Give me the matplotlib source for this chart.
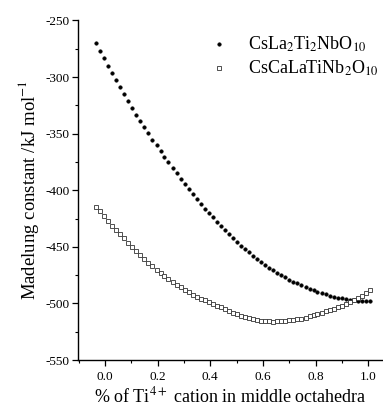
import matplotlib
matplotlib.use("Agg")
import matplotlib.pyplot as plt
from matplotlib.ticker import MultipleLocator

# fraction of Ti4+ in the middle octahedra (shared grid for both series)
ti_fraction = [
    -0.034, -0.019, -0.003, 0.012, 0.027, 0.043, 0.058, 0.073, 0.088, 0.104,
    0.119, 0.134, 0.150, 0.165, 0.180, 0.196, 0.211, 0.226, 0.241, 0.257,
    0.272, 0.287, 0.303, 0.318, 0.333, 0.349, 0.364, 0.379, 0.394, 0.410,
    0.425, 0.440, 0.456, 0.471, 0.486, 0.502, 0.517, 0.532, 0.547, 0.563,
    0.578, 0.593, 0.609, 0.624, 0.639, 0.654, 0.670, 0.685, 0.700, 0.716,
    0.731, 0.746, 0.762, 0.777, 0.792, 0.807, 0.823, 0.838, 0.853, 0.869,
    0.884, 0.899, 0.915, 0.930, 0.945, 0.961, 0.976, 0.991, 1.006,
]

# Madelung constant, kJ/mol
cs_la2_ti2_nb = [
    -270.3, -276.8, -283.6, -289.9, -296.4, -303.0, -308.9, -314.7, -321.4, -327.2,
    -333.2, -339.0, -344.4, -349.6, -355.3, -360.5, -365.5, -370.5, -375.4, -380.3,
    -385.0, -389.8, -394.5, -399.0, -403.4, -407.8, -411.8, -416.2, -420.0, -424.0,
    -428.0, -431.6, -435.4, -438.9, -442.3, -445.5, -449.0, -452.1, -455.0, -457.9,
    -460.8, -463.4, -466.1, -468.4, -470.6, -473.0, -475.0, -477.0, -479.0, -480.8,
    -482.4, -483.9, -485.4, -486.9, -488.3, -489.6, -490.8, -492.0, -493.1, -494.0,
    -494.8, -495.6, -496.3, -496.8, -497.2, -497.5, -497.7, -497.8, -497.8,
]
cs_ca_la_ti_nb2 = [
    -414.8, -418.8, -422.9, -427.3, -431.4, -435.1, -438.9, -442.6, -446.6, -450.5,
    -454.1, -457.4, -460.9, -464.2, -467.3, -470.1, -472.9, -475.7, -478.5, -481.0,
    -483.4, -485.7, -488.0, -490.1, -492.2, -494.0, -495.7, -497.4, -498.9, -500.4,
    -502.0, -503.5, -505.0, -506.6, -508.1, -509.4, -510.9, -512.1, -513.2, -514.1,
    -514.8, -515.3, -515.7, -515.9, -516.0, -515.9, -515.8, -515.4, -515.0, -514.5,
    -514.0, -513.4, -512.6, -511.5, -510.4, -509.2, -508.2, -507.0, -506.0, -504.6,
    -503.3, -501.9, -500.3, -498.6, -496.9, -494.9, -493.1, -490.7, -488.4,
]

plt.rcParams["font.family"] = ["Liberation Serif", "DejaVu Serif"]
plt.rcParams["mathtext.fontset"] = "stix"

fig = plt.figure(figsize=(3.83, 4.08), dpi=100)
ax = fig.add_axes([0.2037, 0.1176, 0.7963, 0.8324])

ax.plot(ti_fraction, cs_la2_ti2_nb, ls="none", marker="o", ms=2.6,
        mfc="black", mec="black", mew=0.3,
        label=r"CsLa$_2$Ti$_2$NbO$_{10}$")
ax.plot(ti_fraction, cs_ca_la_ti_nb2, ls="none", marker="s", ms=3.0,
        mfc="white", mec="#333333", mew=0.6,
        label=r"CsCaLaTiNb$_2$O$_{10}$")

ax.set_xlim(-0.1025, 1.056)
ax.set_ylim(-550, -250)
ax.xaxis.set_major_locator(MultipleLocator(0.2))
ax.xaxis.set_minor_locator(MultipleLocator(0.1))
ax.yaxis.set_major_locator(MultipleLocator(50))
ax.yaxis.set_minor_locator(MultipleLocator(25))
ax.xaxis.set_major_formatter(plt.FuncFormatter(lambda v, p: f"{v:.1f}"))
ax.yaxis.set_major_formatter(plt.FuncFormatter(lambda v, p: f"-{abs(v):.0f}"))

for s in ("top", "right"):
    ax.spines[s].set_visible(False)
for s in ("left", "bottom"):
    ax.spines[s].set_linewidth(1.0)

ax.tick_params(which="major", direction="out", length=4, width=0.9,
               labelsize=9.5, pad=2)
ax.tick_params(axis="x", which="major", pad=4)
ax.tick_params(which="minor", direction="out", length=2.5, width=0.8)

ax.set_xlabel(r"% of Ti$^{4+}$ cation in middle octahedra", fontsize=13,
              labelpad=2)
ax.set_ylabel(r"Madelung constant /kJ mol$^{-1}$", fontsize=13.5, labelpad=3)

ax.legend(loc="upper left", bbox_to_anchor=(0.515, 0.945),
          bbox_transform=fig.transFigure, frameon=False, fontsize=13,
          handlelength=1.0, handletextpad=1.1, labelspacing=0.25,
          borderpad=0.2, markerscale=1.0)

fig.savefig("out.png", dpi=100)
